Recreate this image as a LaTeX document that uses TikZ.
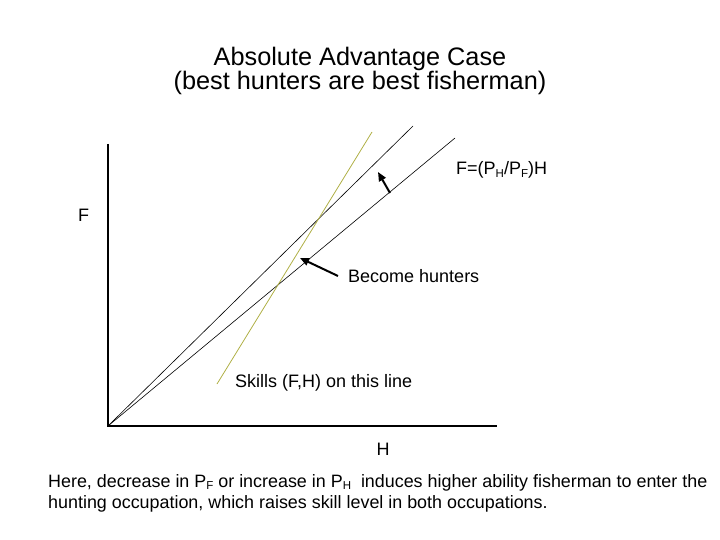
\documentclass[tikz,border=0pt]{standalone}
\usepackage{fontspec}
\setmainfont{Liberation Sans}
\usetikzlibrary{arrows.meta}
\definecolor{olive1}{RGB}{176,176,70}
\newcommand{\sbs}[1]{\raisebox{-0.25ex}{\fontsize{11.5}{11.5}\selectfont #1}}
\tikzset{
  axis/.style={line width=1.3pt, black},
  thin line/.style={line width=0.6pt, black},
  skill line/.style={line width=0.8pt, olive1},
  bigarrow/.style={line width=2pt, -{Triangle[length=9pt,width=7.5pt]}},
  lbl/.style={inner sep=0pt, anchor=base west, font=\fontsize{18}{18}\selectfont},
}
\begin{document}
\begin{tikzpicture}[x=1pt,y=-1pt]
\useasboundingbox (0,0) rectangle (720,540);
% coordinates
\coordinate (O) at (108,426);
\coordinate (Ytop) at (108,144);
\coordinate (Xend) at (497,426);
\coordinate (U) at (413,126);
\coordinate (L) at (455,138);
\coordinate (S1) at (217,384);
\coordinate (S2) at (372,132);
\coordinate (A1s) at (390,193);
\coordinate (A1e) at (378,172);
\coordinate (A2s) at (338,276);
\coordinate (A2e) at (300,258);
% title
\node[inner sep=0pt, anchor=base, font=\fontsize{25.3}{25.3}\selectfont] (t1) at (360,66) {Absolute Advantage Case};
\node[inner sep=0pt, anchor=base, font=\fontsize{25.3}{25.3}\selectfont] (t2) at (360,90) {(best hunters are best fisherman)};
% axes
\draw[axis] (Ytop) -- (O) -- (Xend);
% lines
\draw[thin line] (O) -- (U);
\draw[thin line] (O) -- (L);
\draw[skill line] (S1) -- (S2);
% arrows
\draw[bigarrow] (A1s) -- (A1e);
\draw[bigarrow] (A2s) -- (A2e);
% labels
\node[lbl] (eq) at (456,175) {F=(P\sbs{H}/P\sbs{F})H};
\node[lbl] (F) at (78,222) {F};
\node[lbl] (bh) at (348,282) {Become hunters};
\node[lbl] (sk) at (235,387) {Skills (F,H) on this line};
\node[lbl, anchor=base] (H) at (383,455) {H};
% bottom text
\node[inner sep=0pt, anchor=base west, font=\fontsize{17.9}{17.9}\selectfont] (b1) at (48,487) {Here, decrease in P\sbs{F} or increase in P\sbs{H}\ \ induces higher ability fisherman to enter the};
\node[inner sep=0pt, anchor=base west, font=\fontsize{17.9}{17.9}\selectfont] (b2) at (48,508) {hunting occupation, which raises skill level in both occupations.};
\end{tikzpicture}
\end{document}
